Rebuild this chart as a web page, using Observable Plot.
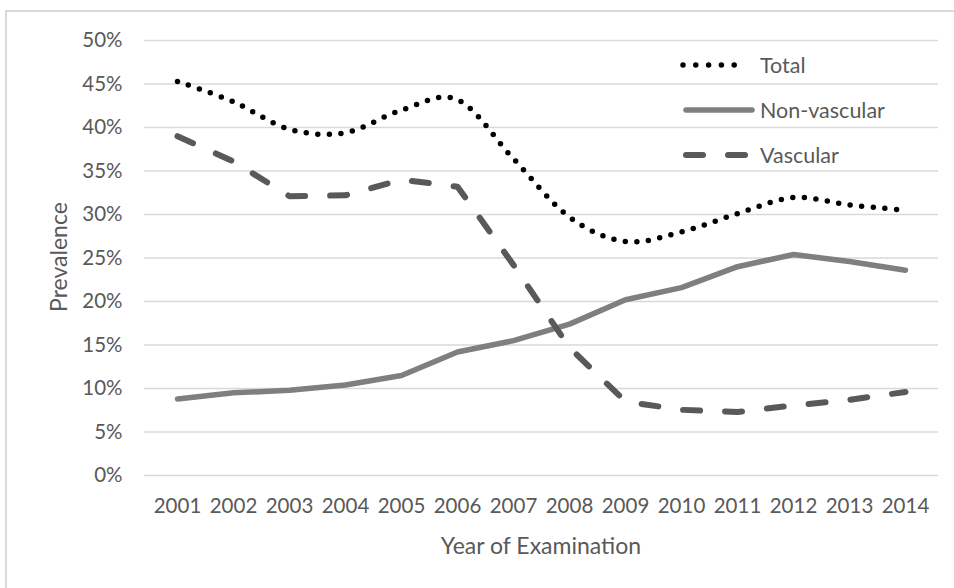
<!DOCTYPE html>
<html>
<head>
<meta charset="utf-8">
<script src="https://cdn.jsdelivr.net/npm/d3@7"></script>
<script src="https://cdn.jsdelivr.net/npm/@observablehq/plot@0.6"></script>
<style>
  html, body { margin: 0; padding: 0; background: #fff; width: 954px; height: 588px; overflow: hidden; }
  #wrap { position: relative; width: 954px; height: 588px; font-family: Lato, "Open Sans", sans-serif; color: #595959; }
  #frame { position: absolute; left: 5px; top: 10px; width: 1000px; height: 700px; border: 2px solid #d9d9d9; box-sizing: border-box; }
  #chart { position: absolute; left: 0; top: 0; }
  .atitle { position: absolute; font-size: 23px; white-space: nowrap; transform: translate(-50%, -50%); }
  #ytitle { transform: translate(-50%, -50%) rotate(-90deg); }
  #legend { position: absolute; left: 0; top: 0; }
</style>
</head>
<body>
<div id="wrap">
  <div id="frame"></div>
  <div id="chart"></div>
  <div class="atitle" id="xtitle" style="left:541px; top:545px;">Year of Examination</div>
  <div class="atitle" id="ytitle" style="left:58px; top:257px;">Prevalence</div>
  <svg id="legend" width="954" height="588"></svg>
</div>
<script>
const years = ["2001","2002","2003","2004","2005","2006","2007","2008","2009","2010","2011","2012","2013","2014"];
const total = [45.3, 42.95, 39.8, 39.4, 42.0, 43.2, 36.4, 29.7, 26.9, 28.0, 30.1, 31.95, 31.1, 30.5];
const nonVascular = [8.8, 9.5, 9.8, 10.4, 11.5, 14.2, 15.5, 17.4, 20.2, 21.6, 24.0, 25.4, 24.6, 23.6];
const vascular = [39.0, 36.1, 32.1, 32.2, 34.0, 33.2, 24.2, 14.7, 8.5, 7.55, 7.3, 8.05, 8.7, 9.6];
const yTicks = [0, 5, 10, 15, 20, 25, 30, 35, 40, 45, 50];
const seriesNames = ["Total", "Non-vascular", "Vascular"];

const rows = (vals) => years.map((y, i) => ({year: y, value: vals[i]}));

const styles = {
  "Total": {stroke: "#000000", strokeWidth: 5.5, strokeDasharray: "0 11.6", strokeLinecap: "round", strokeLinejoin: "round", curve: "cardinal", tension: 0},
  "Non-vascular": {stroke: "#7f7f7f", strokeWidth: 5.5, strokeLinecap: "round", strokeLinejoin: "round", curve: "linear"},
  "Vascular": {stroke: "#595959", strokeWidth: 6, strokeDasharray: "17 25", strokeLinecap: "round", strokeLinejoin: "round", curve: "linear"}
};
const seriesData = {"Total": total, "Non-vascular": nonVascular, "Vascular": vascular};

const chart = Plot.plot({
  width: 954,
  height: 588,
  marginLeft: 144,
  marginRight: 16,
  marginTop: 40,
  marginBottom: 113,
  style: {fontFamily: "Lato, 'Open Sans', sans-serif", fontSize: "20.5px", color: "#595959", background: "transparent"},
  x: {type: "point", domain: years, padding: 0.5, label: null},
  y: {domain: [0, 50], label: null},
  marks: [
    Plot.gridY(yTicks, {stroke: "#d9d9d9", strokeOpacity: 1, strokeWidth: 1.5}),
    Plot.axisY(yTicks, {tickSize: 0, tickPadding: 22, tickFormat: d => d + "%", label: null}),
    Plot.axisX(years, {tickSize: 0, tickPadding: 23, label: null}),
    ...seriesNames.map(name => Plot.line(rows(seriesData[name]), {x: "year", y: "value", ...styles[name]}))
  ]
});
document.getElementById("chart").appendChild(chart);

// legend
const leg = d3.select("#legend");
const legRows = [
  {name: "Total", y: 65, x1: 683, x2: 747},
  {name: "Non-vascular", y: 110, x1: 686, x2: 752},
  {name: "Vascular", y: 155, x1: 686, x2: 745}
];
legRows.forEach(r => {
  const s = styles[r.name];
  leg.append("line")
    .attr("x1", r.x1).attr("x2", r.x2).attr("y1", r.y).attr("y2", r.y)
    .attr("stroke", s.stroke).attr("stroke-width", s.strokeWidth)
    .attr("stroke-linecap", "round")
    .attr("stroke-dasharray", r.name === "Total" ? "0 12.8" : (s.strokeDasharray || null));
  leg.append("text")
    .attr("x", 760).attr("y", r.y).attr("dy", "0.35em")
    .attr("fill", "#595959")
    .style("font-family", "Lato, 'Open Sans', sans-serif")
    .style("font-size", "21.5px")
    .text(r.name);
});
</script>
</body>
</html>
